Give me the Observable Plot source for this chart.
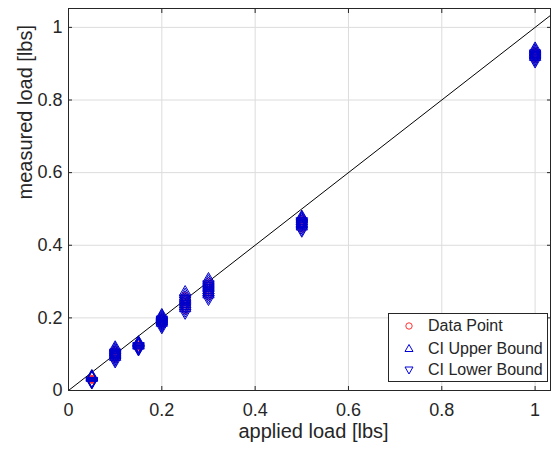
<!DOCTYPE html>
<html>
<head>
<meta charset="utf-8">
<script src="https://cdn.jsdelivr.net/npm/d3@7"></script>
<script src="https://cdn.jsdelivr.net/npm/@observablehq/plot@0.6"></script>
<style>
  body { margin: 0; background: #fff; font-family: "Liberation Sans", Arial, sans-serif; }
  #wrap { position: relative; width: 551px; height: 451px; }
  #legend { position: absolute; left: 388px; top: 313px; width: 160px; height: 69px;
    border: 1px solid #262626; background: #fff; box-sizing: border-box; font-size: 16px; color: #262626; }
  .row { position: absolute; left: 0; height: 20px; line-height: 20px; white-space: nowrap; }
  .row svg { position: absolute; left: 14px; top: 4px; }
  .row span { position: absolute; left: 39px; }
</style>
</head>
<body>
<div id="wrap">
  <div id="chart"></div>
  <div id="legend">
    <div class="row" style="top:2px"><svg width="12" height="12"><circle cx="6" cy="6" r="3.2" fill="none" stroke="#ff3030" stroke-width="1"/></svg><span>Data Point</span></div>
    <div class="row" style="top:24.5px"><svg width="12" height="12"><path d="M6,1.5L10,8.5L2,8.5Z" fill="none" stroke="#0000dd" stroke-width="1"/></svg><span>CI Upper Bound</span></div>
    <div class="row" style="top:46px"><svg width="12" height="12"><path d="M6,10L10,3L2,3Z" fill="none" stroke="#0000dd" stroke-width="1"/></svg><span>CI Lower Bound</span></div>
  </div>
</div>
<script>
const loads = [0.05, 0.1, 0.15, 0.2, 0.25, 0.3, 0.5, 1.0];
const dataPoints = [
  [0.028, 0.030, 0.031, 0.032, 0.033, 0.030],
  [0.086, 0.090, 0.094, 0.098, 0.101, 0.104, 0.108, 0.112],
  [0.118, 0.120, 0.122, 0.124, 0.126, 0.128],
  [0.180, 0.184, 0.187, 0.190, 0.193, 0.196, 0.199, 0.202],
  [0.220, 0.226, 0.232, 0.238, 0.244, 0.250, 0.256, 0.262],
  [0.258, 0.264, 0.270, 0.276, 0.282, 0.288, 0.294, 0.300],
  [0.445, 0.450, 0.455, 0.460, 0.464, 0.467, 0.470, 0.473],
  [0.912, 0.916, 0.920, 0.924, 0.928, 0.932, 0.935]
];
const ciUpper = [
  [0.034, 0.036, 0.037, 0.038, 0.040, 0.036],
  [0.092, 0.096, 0.100, 0.104, 0.107, 0.111, 0.115, 0.119],
  [0.123, 0.125, 0.127, 0.129, 0.131, 0.133],
  [0.186, 0.190, 0.193, 0.196, 0.199, 0.202, 0.205, 0.208],
  [0.226, 0.232, 0.238, 0.245, 0.251, 0.257, 0.264, 0.271],
  [0.264, 0.270, 0.276, 0.283, 0.289, 0.295, 0.301, 0.307],
  [0.451, 0.456, 0.461, 0.466, 0.470, 0.473, 0.476, 0.479],
  [0.918, 0.922, 0.926, 0.930, 0.934, 0.938, 0.942]
];
const ciLower = [
  [0.022, 0.024, 0.025, 0.026, 0.027, 0.024],
  [0.080, 0.084, 0.088, 0.092, 0.095, 0.098, 0.102, 0.105],
  [0.113, 0.115, 0.117, 0.119, 0.121, 0.123],
  [0.174, 0.178, 0.181, 0.184, 0.187, 0.190, 0.193, 0.196],
  [0.214, 0.220, 0.226, 0.231, 0.237, 0.243, 0.249, 0.254],
  [0.252, 0.258, 0.264, 0.269, 0.275, 0.281, 0.287, 0.293],
  [0.440, 0.444, 0.449, 0.454, 0.458, 0.461, 0.464, 0.467],
  [0.906, 0.910, 0.914, 0.918, 0.922, 0.926, 0.929]
];
const ticks = [0, 0.2, 0.4, 0.6, 0.8, 1];
const tickLabels = ["0", "0.2", "0.4", "0.6", "0.8", "1"];
const refLine = [[0, 0], [1.1, 1.1]];

const flat = (vals) => loads.flatMap((x, i) => vals[i].map(y => ({x, y})));
const pts = flat(dataPoints), up = flat(ciUpper), lo = flat(ciLower);

const triDown = {
  draw(context, size) {
    const y = Math.sqrt(size / (Math.sqrt(3) * 3));
    context.moveTo(0, y * 2);
    context.lineTo(-Math.sqrt(3) * y, -y);
    context.lineTo(Math.sqrt(3) * y, -y);
    context.closePath();
  }
};
const fmt = d => tickLabels[ticks.indexOf(d)] ?? String(d);
const ink = "#262626";

const chart = Plot.plot({
  width: 551,
  height: 451,
  marginLeft: 68,
  marginRight: 1,
  marginTop: 8,
  marginBottom: 61,
  style: { fontFamily: "Liberation Sans, Arial, sans-serif", fontSize: "18px", color: ink, background: "#fff" },
  x: { domain: [0, 1.033], ticks },
  y: { domain: [0, 1.052], ticks },
  marks: [
    Plot.gridX(ticks, { stroke: "#dcdcdc", strokeOpacity: 1 }),
    Plot.gridY(ticks, { stroke: "#dcdcdc", strokeOpacity: 1 }),
    Plot.line(refLine, { x: d => d[0], y: d => d[1], stroke: "black", strokeWidth: 1, clip: true }),
    Plot.dot(pts, { x: "x", y: "y", r: 3.2, stroke: "#ff3030", strokeWidth: 1 }),
    Plot.dot(up, { x: "x", y: "y", symbol: "triangle", r: 4.2, stroke: "#0000cc", strokeWidth: 1 }),
    Plot.dot(lo, { x: "x", y: "y", symbol: triDown, r: 4.2, stroke: "#0000cc", strokeWidth: 1 }),
    Plot.axisX(ticks, { tickSize: 0, tickPadding: 13, tickFormat: fmt, label: null, fill: ink, fontSize: 18 }),
    Plot.axisY(ticks, { tickSize: 0, tickPadding: 6, tickFormat: fmt, label: null, fill: ink, fontSize: 18 }),
    Plot.axisX(ticks, { anchor: "bottom", tickSize: -4, text: null, label: null, stroke: ink }),
    Plot.axisX(ticks, { anchor: "top", tickSize: -4, text: null, label: null, stroke: ink }),
    Plot.axisY(ticks, { anchor: "left", tickSize: -4, text: null, label: null, stroke: ink }),
    Plot.axisY(ticks, { anchor: "right", tickSize: -4, text: null, label: null, stroke: ink }),
    Plot.frame({ stroke: ink, strokeWidth: 1 }),
    Plot.text(["applied load [lbs]"], { frameAnchor: "bottom", dx: 4, dy: 47, fontSize: 20, fill: ink }),
    Plot.text(["measured load [lbs]"], { frameAnchor: "left", dx: -43, dy: 0, rotate: -90, fontSize: 20, fill: ink })
  ]
});
document.getElementById("chart").appendChild(chart);
</script>
</body>
</html>
